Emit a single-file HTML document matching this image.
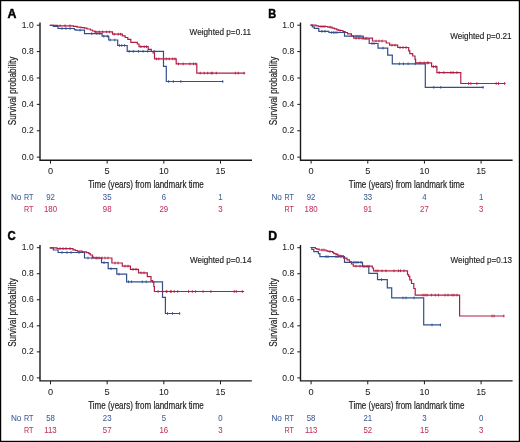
<!DOCTYPE html>
<html><head><meta charset="utf-8"><style>
html,body{margin:0;padding:0;background:#fff;}
svg{display:block;will-change:transform;}
text{font-family:"Liberation Sans",sans-serif;}
</style></head><body>
<svg width="520" height="442" viewBox="0 0 520 442">
<rect x="0" y="0" width="520" height="442" fill="#fff"/>
<g>
<text x="7.5" y="17.6" font-size="12.4" font-weight="bold" fill="#000" stroke="#000" stroke-width="0.45" textLength="8.9" lengthAdjust="spacingAndGlyphs">A</text>
<path d="M40 22.4V160.2H252" fill="none" stroke="#1a1a1a" stroke-width="1.4"/>
<path d="M36.8 157.15H40" stroke="#1a1a1a" stroke-width="1"/>
<text x="33.7" y="159.75" font-size="9.2" fill="#1e1e1e" stroke="#1e1e1e" stroke-width="0.06" text-anchor="end" textLength="11.89" lengthAdjust="spacingAndGlyphs">0.0</text>
<path d="M36.8 130.76H40" stroke="#1a1a1a" stroke-width="1"/>
<text x="33.7" y="133.36" font-size="9.2" fill="#1e1e1e" stroke="#1e1e1e" stroke-width="0.06" text-anchor="end" textLength="11.89" lengthAdjust="spacingAndGlyphs">0.2</text>
<path d="M36.8 104.37H40" stroke="#1a1a1a" stroke-width="1"/>
<text x="33.7" y="106.97" font-size="9.2" fill="#1e1e1e" stroke="#1e1e1e" stroke-width="0.06" text-anchor="end" textLength="11.89" lengthAdjust="spacingAndGlyphs">0.4</text>
<path d="M36.8 77.98H40" stroke="#1a1a1a" stroke-width="1"/>
<text x="33.7" y="80.58" font-size="9.2" fill="#1e1e1e" stroke="#1e1e1e" stroke-width="0.06" text-anchor="end" textLength="11.89" lengthAdjust="spacingAndGlyphs">0.6</text>
<path d="M36.8 51.59H40" stroke="#1a1a1a" stroke-width="1"/>
<text x="33.7" y="54.19" font-size="9.2" fill="#1e1e1e" stroke="#1e1e1e" stroke-width="0.06" text-anchor="end" textLength="11.89" lengthAdjust="spacingAndGlyphs">0.8</text>
<path d="M36.8 25.2H40" stroke="#1a1a1a" stroke-width="1"/>
<text x="33.7" y="27.8" font-size="9.2" fill="#1e1e1e" stroke="#1e1e1e" stroke-width="0.06" text-anchor="end" textLength="11.89" lengthAdjust="spacingAndGlyphs">1.0</text>
<path d="M50.5 160.2V163.6" stroke="#1a1a1a" stroke-width="1"/>
<text x="50.5" y="173.7" font-size="9.2" fill="#1e1e1e" stroke="#1e1e1e" stroke-width="0.06" text-anchor="middle">0</text>
<path d="M107.17 160.2V163.6" stroke="#1a1a1a" stroke-width="1"/>
<text x="107.17" y="173.7" font-size="9.2" fill="#1e1e1e" stroke="#1e1e1e" stroke-width="0.06" text-anchor="middle">5</text>
<path d="M163.83 160.2V163.6" stroke="#1a1a1a" stroke-width="1"/>
<text x="163.83" y="173.7" font-size="9.2" fill="#1e1e1e" stroke="#1e1e1e" stroke-width="0.06" text-anchor="middle" textLength="9.82" lengthAdjust="spacingAndGlyphs">10</text>
<path d="M220.5 160.2V163.6" stroke="#1a1a1a" stroke-width="1"/>
<text x="220.5" y="173.7" font-size="9.2" fill="#1e1e1e" stroke="#1e1e1e" stroke-width="0.06" text-anchor="middle" textLength="9.82" lengthAdjust="spacingAndGlyphs">15</text>
<text x="146" y="187.9" font-size="10.4" text-anchor="middle" fill="#1e1e1e" stroke="#1e1e1e" stroke-width="0.2" textLength="115.6" lengthAdjust="spacingAndGlyphs">Time (years) from landmark time</text>
<text transform="translate(16 90.9) rotate(-90)" x="0" y="0" font-size="10.6" text-anchor="middle" fill="#1e1e1e" stroke="#1e1e1e" stroke-width="0.2" textLength="68.6" lengthAdjust="spacingAndGlyphs">Survival probability</text>
<text x="189.6" y="35" font-size="8.2" fill="#1e1e1e" stroke="#1e1e1e" stroke-width="0.14" textLength="61.4" lengthAdjust="spacingAndGlyphs">Weighted p=0.11</text>
<text x="21.4" y="200.4" font-size="8.9" fill="#3e5c97" stroke="#3e5c97" stroke-width="0.06" text-anchor="end" textLength="10.47" lengthAdjust="spacingAndGlyphs">No</text>
<text x="33.4" y="200.4" font-size="8.9" fill="#3e5c97" stroke="#3e5c97" stroke-width="0.06" text-anchor="end" textLength="9.36" lengthAdjust="spacingAndGlyphs">RT</text>
<text x="33.4" y="211.9" font-size="8.9" fill="#c1325c" stroke="#c1325c" stroke-width="0.06" text-anchor="end" textLength="9.36" lengthAdjust="spacingAndGlyphs">RT</text>
<text x="50.5" y="200.4" font-size="9.3" fill="#3e5c97" stroke="#3e5c97" stroke-width="0.06" text-anchor="middle" textLength="8.69" lengthAdjust="spacingAndGlyphs">92</text>
<text x="50.5" y="211.9" font-size="9.3" fill="#c1325c" stroke="#c1325c" stroke-width="0.06" text-anchor="middle" textLength="13.03" lengthAdjust="spacingAndGlyphs">180</text>
<text x="107.17" y="200.4" font-size="9.3" fill="#3e5c97" stroke="#3e5c97" stroke-width="0.06" text-anchor="middle" textLength="8.69" lengthAdjust="spacingAndGlyphs">35</text>
<text x="107.17" y="211.9" font-size="9.3" fill="#c1325c" stroke="#c1325c" stroke-width="0.06" text-anchor="middle" textLength="8.69" lengthAdjust="spacingAndGlyphs">98</text>
<text x="163.83" y="200.4" font-size="9.3" fill="#3e5c97" stroke="#3e5c97" stroke-width="0.06" text-anchor="middle" textLength="4.34" lengthAdjust="spacingAndGlyphs">6</text>
<text x="163.83" y="211.9" font-size="9.3" fill="#c1325c" stroke="#c1325c" stroke-width="0.06" text-anchor="middle" textLength="8.69" lengthAdjust="spacingAndGlyphs">29</text>
<text x="220.5" y="200.4" font-size="9.3" fill="#3e5c97" stroke="#3e5c97" stroke-width="0.06" text-anchor="middle" textLength="4.34" lengthAdjust="spacingAndGlyphs">1</text>
<text x="220.5" y="211.9" font-size="9.3" fill="#c1325c" stroke="#c1325c" stroke-width="0.06" text-anchor="middle" textLength="4.34" lengthAdjust="spacingAndGlyphs">3</text>
<path d="M50.4 25.3H53.3V26.5H58V28.5H74.4V29.6H75.9V30.1H84.5V33.6H102.1V36.2H108.7V40H117.7V45.5H127.2V51.3H163.5V66.3H166.3V81.5H222.7" fill="none" stroke="#31508c" stroke-width="1.2" stroke-linejoin="miter" stroke-linecap="square"/>
<path d="M62 27.15v2.7M66 27.15v2.7M70 27.15v2.7M80 28.75v2.7M91.7 32.25v2.7M96.9 32.25v2.7M99.8 32.25v2.7M103.8 34.85v2.7M107.3 34.85v2.7M110.2 38.65v2.7M114.8 38.65v2.7M119.4 44.15v2.7M121.7 44.15v2.7M124.6 44.15v2.7M129.2 49.95v2.7M133.3 49.95v2.7M138.5 49.95v2.7M143.1 49.95v2.7M147.7 49.95v2.7M154.2 49.95v2.7M168.7 80.15v2.7M173.3 80.15v2.7M180.8 80.15v2.7M222.7 80.15v2.7" stroke="#31508c" stroke-width="0.9"/>
<path d="M50.4 25.3H57.5V25.8H73.5V26.4H77V27.1H81V27.6H84.5V28.2H87V29H90.3V30H92.5V31H94.6V31.9H112.5V34.2H122.3V35.8H125.2V37.5H127.8V39.3H130.8V42.3H137.3V44H139V46.7H148.2V49.3H151.3V51.5H153.1V52.9H154.5V58.9H176.2V63.9H196.8V73.1H244.6" fill="none" stroke="#b21d45" stroke-width="1.2" stroke-linejoin="miter" stroke-linecap="square"/>
<path d="M60 24.45v2.7M65 24.45v2.7M70 24.45v2.7M95.8 30.55v2.7M99.2 30.55v2.7M102.7 30.55v2.7M106.7 30.55v2.7M109.6 30.55v2.7M114.2 32.85v2.7M118.3 32.85v2.7M120.6 32.85v2.7M140.8 45.35v2.7M144.2 45.35v2.7M146.5 45.35v2.7M156.5 57.55v2.7M158.8 57.55v2.7M163.5 57.55v2.7M166.3 57.55v2.7M169.2 57.55v2.7M172.7 57.55v2.7M175 57.55v2.7M178.5 62.55v2.7M183.1 62.55v2.7M190 62.55v2.7M193.5 62.55v2.7M195.8 62.55v2.7M200.2 71.75v2.7M204.2 71.75v2.7M207.7 71.75v2.7M211.2 71.75v2.7M212.3 71.75v2.7M216.3 71.75v2.7M235.4 71.75v2.7M238.3 71.75v2.7M244 71.75v2.7" stroke="#b21d45" stroke-width="0.9"/>
</g>
<g>
<text x="268.3" y="17.6" font-size="12.4" font-weight="bold" fill="#000" stroke="#000" stroke-width="0.45" textLength="7.9" lengthAdjust="spacingAndGlyphs">B</text>
<path d="M300.5 22.4V160.2H512.6" fill="none" stroke="#1a1a1a" stroke-width="1.4"/>
<path d="M297.3 157.15H300.5" stroke="#1a1a1a" stroke-width="1"/>
<text x="294.2" y="159.75" font-size="9.2" fill="#1e1e1e" stroke="#1e1e1e" stroke-width="0.06" text-anchor="end" textLength="11.89" lengthAdjust="spacingAndGlyphs">0.0</text>
<path d="M297.3 130.76H300.5" stroke="#1a1a1a" stroke-width="1"/>
<text x="294.2" y="133.36" font-size="9.2" fill="#1e1e1e" stroke="#1e1e1e" stroke-width="0.06" text-anchor="end" textLength="11.89" lengthAdjust="spacingAndGlyphs">0.2</text>
<path d="M297.3 104.37H300.5" stroke="#1a1a1a" stroke-width="1"/>
<text x="294.2" y="106.97" font-size="9.2" fill="#1e1e1e" stroke="#1e1e1e" stroke-width="0.06" text-anchor="end" textLength="11.89" lengthAdjust="spacingAndGlyphs">0.4</text>
<path d="M297.3 77.98H300.5" stroke="#1a1a1a" stroke-width="1"/>
<text x="294.2" y="80.58" font-size="9.2" fill="#1e1e1e" stroke="#1e1e1e" stroke-width="0.06" text-anchor="end" textLength="11.89" lengthAdjust="spacingAndGlyphs">0.6</text>
<path d="M297.3 51.59H300.5" stroke="#1a1a1a" stroke-width="1"/>
<text x="294.2" y="54.19" font-size="9.2" fill="#1e1e1e" stroke="#1e1e1e" stroke-width="0.06" text-anchor="end" textLength="11.89" lengthAdjust="spacingAndGlyphs">0.8</text>
<path d="M297.3 25.2H300.5" stroke="#1a1a1a" stroke-width="1"/>
<text x="294.2" y="27.8" font-size="9.2" fill="#1e1e1e" stroke="#1e1e1e" stroke-width="0.06" text-anchor="end" textLength="11.89" lengthAdjust="spacingAndGlyphs">1.0</text>
<path d="M311.1 160.2V163.6" stroke="#1a1a1a" stroke-width="1"/>
<text x="311.1" y="173.7" font-size="9.2" fill="#1e1e1e" stroke="#1e1e1e" stroke-width="0.06" text-anchor="middle">0</text>
<path d="M367.77 160.2V163.6" stroke="#1a1a1a" stroke-width="1"/>
<text x="367.77" y="173.7" font-size="9.2" fill="#1e1e1e" stroke="#1e1e1e" stroke-width="0.06" text-anchor="middle">5</text>
<path d="M424.43 160.2V163.6" stroke="#1a1a1a" stroke-width="1"/>
<text x="424.43" y="173.7" font-size="9.2" fill="#1e1e1e" stroke="#1e1e1e" stroke-width="0.06" text-anchor="middle" textLength="9.82" lengthAdjust="spacingAndGlyphs">10</text>
<path d="M481.1 160.2V163.6" stroke="#1a1a1a" stroke-width="1"/>
<text x="481.1" y="173.7" font-size="9.2" fill="#1e1e1e" stroke="#1e1e1e" stroke-width="0.06" text-anchor="middle" textLength="9.82" lengthAdjust="spacingAndGlyphs">15</text>
<text x="406.6" y="187.9" font-size="10.4" text-anchor="middle" fill="#1e1e1e" stroke="#1e1e1e" stroke-width="0.2" textLength="115.6" lengthAdjust="spacingAndGlyphs">Time (years) from landmark time</text>
<text transform="translate(276.5 90.9) rotate(-90)" x="0" y="0" font-size="10.6" text-anchor="middle" fill="#1e1e1e" stroke="#1e1e1e" stroke-width="0.2" textLength="68.6" lengthAdjust="spacingAndGlyphs">Survival probability</text>
<text x="450.2" y="38.6" font-size="8.2" fill="#1e1e1e" stroke="#1e1e1e" stroke-width="0.14" textLength="61.4" lengthAdjust="spacingAndGlyphs">Weighted p=0.21</text>
<text x="281.9" y="200.4" font-size="8.9" fill="#3e5c97" stroke="#3e5c97" stroke-width="0.06" text-anchor="end" textLength="10.47" lengthAdjust="spacingAndGlyphs">No</text>
<text x="293.9" y="200.4" font-size="8.9" fill="#3e5c97" stroke="#3e5c97" stroke-width="0.06" text-anchor="end" textLength="9.36" lengthAdjust="spacingAndGlyphs">RT</text>
<text x="293.9" y="211.9" font-size="8.9" fill="#c1325c" stroke="#c1325c" stroke-width="0.06" text-anchor="end" textLength="9.36" lengthAdjust="spacingAndGlyphs">RT</text>
<text x="311.1" y="200.4" font-size="9.3" fill="#3e5c97" stroke="#3e5c97" stroke-width="0.06" text-anchor="middle" textLength="8.69" lengthAdjust="spacingAndGlyphs">92</text>
<text x="311.1" y="211.9" font-size="9.3" fill="#c1325c" stroke="#c1325c" stroke-width="0.06" text-anchor="middle" textLength="13.03" lengthAdjust="spacingAndGlyphs">180</text>
<text x="367.77" y="200.4" font-size="9.3" fill="#3e5c97" stroke="#3e5c97" stroke-width="0.06" text-anchor="middle" textLength="8.69" lengthAdjust="spacingAndGlyphs">33</text>
<text x="367.77" y="211.9" font-size="9.3" fill="#c1325c" stroke="#c1325c" stroke-width="0.06" text-anchor="middle" textLength="8.69" lengthAdjust="spacingAndGlyphs">91</text>
<text x="424.43" y="200.4" font-size="9.3" fill="#3e5c97" stroke="#3e5c97" stroke-width="0.06" text-anchor="middle" textLength="4.34" lengthAdjust="spacingAndGlyphs">4</text>
<text x="424.43" y="211.9" font-size="9.3" fill="#c1325c" stroke="#c1325c" stroke-width="0.06" text-anchor="middle" textLength="8.69" lengthAdjust="spacingAndGlyphs">27</text>
<text x="481.1" y="200.4" font-size="9.3" fill="#3e5c97" stroke="#3e5c97" stroke-width="0.06" text-anchor="middle" textLength="4.34" lengthAdjust="spacingAndGlyphs">1</text>
<text x="481.1" y="211.9" font-size="9.3" fill="#c1325c" stroke="#c1325c" stroke-width="0.06" text-anchor="middle" textLength="4.34" lengthAdjust="spacingAndGlyphs">3</text>
<path d="M311.1 25.2H312.3V26.8H314.2V28.3H318.8V31.3H328.9V32.5H344.5V36.2H363.3V39H369.2V43.5H378V48.1H387.7V55.2H392.3V63.8H425.3V87.3H483" fill="none" stroke="#31508c" stroke-width="1.2" stroke-linejoin="miter" stroke-linecap="square"/>
<path d="M322 29.95v2.7M325 29.95v2.7M331.3 31.15v2.7M333.3 31.15v2.7M335 31.15v2.7M337 31.15v2.7M356 34.85v2.7M358 34.85v2.7M360 34.85v2.7M372 42.15v2.7M374 42.15v2.7M383 46.75v2.7M399.4 62.45v2.7M403.5 62.45v2.7M408.1 62.45v2.7M415.2 62.45v2.7M433.8 85.95v2.7M440.8 85.95v2.7M483 85.95v2.7" stroke="#31508c" stroke-width="0.9"/>
<path d="M311.1 25.2H316V25.8H318.8V26.5H327.7V27.1H332V28.1H334.5V28.9H336.9V29.8H338.5V30.5H342.9V31.5H345.2V32.5H347.5V33.8H351.4V35.8H353.7V38.2H372.5V41H386.2V43H389.6V45.2H397.7V47.5H408.7V50.8H409.8V53.7H412.7V56H415V59.4H415.6V62.9H431.6V66.6H436.9V72.6H460.8V83.5H505" fill="none" stroke="#b21d45" stroke-width="1.2" stroke-linejoin="miter" stroke-linecap="square"/>
<path d="M321 25.15v2.7M323 25.15v2.7M325 25.15v2.7M330 25.75v2.7M340 29.15v2.7M356 36.85v2.7M359 36.85v2.7M362 36.85v2.7M366 36.85v2.7M376 39.65v2.7M379 39.65v2.7M382 39.65v2.7M392 43.85v2.7M395 43.85v2.7M400 46.15v2.7M403 46.15v2.7M406 46.15v2.7M420 61.55v2.7M424.2 61.55v2.7M427.1 61.55v2.7M428.3 61.55v2.7M433.5 65.25v2.7M435.8 65.25v2.7M439.2 71.25v2.7M443.8 71.25v2.7M450.8 71.25v2.7M453 71.25v2.7M456.9 71.25v2.7M468.5 82.15v2.7M470.8 82.15v2.7M476.9 82.15v2.7M496.2 82.15v2.7M498.5 82.15v2.7M504.6 82.15v2.7" stroke="#b21d45" stroke-width="0.9"/>
</g>
<g>
<text x="7.5" y="239.6" font-size="12.4" font-weight="bold" fill="#000" stroke="#000" stroke-width="0.45" textLength="8.2" lengthAdjust="spacingAndGlyphs">C</text>
<path d="M40 245V380.9H251.8" fill="none" stroke="#1a1a1a" stroke-width="1.4"/>
<path d="M36.8 377.9H40" stroke="#1a1a1a" stroke-width="1"/>
<text x="33.7" y="380.5" font-size="9.2" fill="#1e1e1e" stroke="#1e1e1e" stroke-width="0.06" text-anchor="end" textLength="11.89" lengthAdjust="spacingAndGlyphs">0.0</text>
<path d="M36.8 351.86H40" stroke="#1a1a1a" stroke-width="1"/>
<text x="33.7" y="354.46" font-size="9.2" fill="#1e1e1e" stroke="#1e1e1e" stroke-width="0.06" text-anchor="end" textLength="11.89" lengthAdjust="spacingAndGlyphs">0.2</text>
<path d="M36.8 325.82H40" stroke="#1a1a1a" stroke-width="1"/>
<text x="33.7" y="328.42" font-size="9.2" fill="#1e1e1e" stroke="#1e1e1e" stroke-width="0.06" text-anchor="end" textLength="11.89" lengthAdjust="spacingAndGlyphs">0.4</text>
<path d="M36.8 299.78H40" stroke="#1a1a1a" stroke-width="1"/>
<text x="33.7" y="302.38" font-size="9.2" fill="#1e1e1e" stroke="#1e1e1e" stroke-width="0.06" text-anchor="end" textLength="11.89" lengthAdjust="spacingAndGlyphs">0.6</text>
<path d="M36.8 273.74H40" stroke="#1a1a1a" stroke-width="1"/>
<text x="33.7" y="276.34" font-size="9.2" fill="#1e1e1e" stroke="#1e1e1e" stroke-width="0.06" text-anchor="end" textLength="11.89" lengthAdjust="spacingAndGlyphs">0.8</text>
<path d="M36.8 247.7H40" stroke="#1a1a1a" stroke-width="1"/>
<text x="33.7" y="250.3" font-size="9.2" fill="#1e1e1e" stroke="#1e1e1e" stroke-width="0.06" text-anchor="end" textLength="11.89" lengthAdjust="spacingAndGlyphs">1.0</text>
<path d="M50.5 380.9V384.3" stroke="#1a1a1a" stroke-width="1"/>
<text x="50.5" y="394.8" font-size="9.2" fill="#1e1e1e" stroke="#1e1e1e" stroke-width="0.06" text-anchor="middle">0</text>
<path d="M107.17 380.9V384.3" stroke="#1a1a1a" stroke-width="1"/>
<text x="107.17" y="394.8" font-size="9.2" fill="#1e1e1e" stroke="#1e1e1e" stroke-width="0.06" text-anchor="middle">5</text>
<path d="M163.83 380.9V384.3" stroke="#1a1a1a" stroke-width="1"/>
<text x="163.83" y="394.8" font-size="9.2" fill="#1e1e1e" stroke="#1e1e1e" stroke-width="0.06" text-anchor="middle" textLength="9.82" lengthAdjust="spacingAndGlyphs">10</text>
<path d="M220.5 380.9V384.3" stroke="#1a1a1a" stroke-width="1"/>
<text x="220.5" y="394.8" font-size="9.2" fill="#1e1e1e" stroke="#1e1e1e" stroke-width="0.06" text-anchor="middle" textLength="9.82" lengthAdjust="spacingAndGlyphs">15</text>
<text x="146" y="408.6" font-size="10.4" text-anchor="middle" fill="#1e1e1e" stroke="#1e1e1e" stroke-width="0.2" textLength="115.6" lengthAdjust="spacingAndGlyphs">Time (years) from landmark time</text>
<text transform="translate(16 312.55) rotate(-90)" x="0" y="0" font-size="10.6" text-anchor="middle" fill="#1e1e1e" stroke="#1e1e1e" stroke-width="0.2" textLength="68.6" lengthAdjust="spacingAndGlyphs">Survival probability</text>
<text x="190" y="263.2" font-size="8.2" fill="#1e1e1e" stroke="#1e1e1e" stroke-width="0.14" textLength="61.4" lengthAdjust="spacingAndGlyphs">Weighted p=0.14</text>
<text x="21.4" y="421.4" font-size="8.9" fill="#3e5c97" stroke="#3e5c97" stroke-width="0.06" text-anchor="end" textLength="10.47" lengthAdjust="spacingAndGlyphs">No</text>
<text x="33.4" y="421.4" font-size="8.9" fill="#3e5c97" stroke="#3e5c97" stroke-width="0.06" text-anchor="end" textLength="9.36" lengthAdjust="spacingAndGlyphs">RT</text>
<text x="33.4" y="432.9" font-size="8.9" fill="#c1325c" stroke="#c1325c" stroke-width="0.06" text-anchor="end" textLength="9.36" lengthAdjust="spacingAndGlyphs">RT</text>
<text x="50.5" y="421.4" font-size="9.3" fill="#3e5c97" stroke="#3e5c97" stroke-width="0.06" text-anchor="middle" textLength="8.69" lengthAdjust="spacingAndGlyphs">58</text>
<text x="50.5" y="432.9" font-size="9.3" fill="#c1325c" stroke="#c1325c" stroke-width="0.06" text-anchor="middle" textLength="12.45" lengthAdjust="spacingAndGlyphs">113</text>
<text x="107.17" y="421.4" font-size="9.3" fill="#3e5c97" stroke="#3e5c97" stroke-width="0.06" text-anchor="middle" textLength="8.69" lengthAdjust="spacingAndGlyphs">23</text>
<text x="107.17" y="432.9" font-size="9.3" fill="#c1325c" stroke="#c1325c" stroke-width="0.06" text-anchor="middle" textLength="8.69" lengthAdjust="spacingAndGlyphs">57</text>
<text x="163.83" y="421.4" font-size="9.3" fill="#3e5c97" stroke="#3e5c97" stroke-width="0.06" text-anchor="middle" textLength="4.34" lengthAdjust="spacingAndGlyphs">5</text>
<text x="163.83" y="432.9" font-size="9.3" fill="#c1325c" stroke="#c1325c" stroke-width="0.06" text-anchor="middle" textLength="8.69" lengthAdjust="spacingAndGlyphs">16</text>
<text x="220.5" y="421.4" font-size="9.3" fill="#3e5c97" stroke="#3e5c97" stroke-width="0.06" text-anchor="middle" textLength="4.34" lengthAdjust="spacingAndGlyphs">0</text>
<text x="220.5" y="432.9" font-size="9.3" fill="#c1325c" stroke="#c1325c" stroke-width="0.06" text-anchor="middle" textLength="4.34" lengthAdjust="spacingAndGlyphs">3</text>
<path d="M50.4 247.8H53.3V250H58.1V252.5H84.5V258H101.5V262.6H108.2V268.7H116.8V274.2H126.6V281.8H162.5V297.3H165.4V313.5H179.6" fill="none" stroke="#31508c" stroke-width="1.2" stroke-linejoin="miter" stroke-linecap="square"/>
<path d="M62 251.15v2.7M67 251.15v2.7M71 251.15v2.7M79 251.15v2.7M88 256.65v2.7M92 256.65v2.7M97 256.65v2.7M104 261.25v2.7M111 267.35v2.7M119 272.85v2.7M128.5 280.45v2.7M131.5 280.45v2.7M142.3 280.45v2.7M146.2 280.45v2.7M167.5 312.15v2.7M172.5 312.15v2.7M179.6 312.15v2.7" stroke="#31508c" stroke-width="0.9"/>
<path d="M50.4 247.8H57.1V248.6H73V249.8H75.4V250.5H77.3V251.2H82.1V251.9H86.5V252.7H88.9V253.6H90.3V255H92.5V257.2H93.7V258H111.9V263H122.3V266.1H130.4V269.3H138.5V272.8H147.3V276.7H151V280.7H152.7V282.1H153.8V286.5H154.4V291.5H243.5" fill="none" stroke="#b21d45" stroke-width="1.2" stroke-linejoin="miter" stroke-linecap="square"/>
<path d="M60 247.25v2.7M63 247.25v2.7M66 247.25v2.7M70 247.25v2.7M96 256.65v2.7M99 256.65v2.7M102 256.65v2.7M105 256.65v2.7M108 256.65v2.7M115 261.65v2.7M118 261.65v2.7M125 264.75v2.7M128 264.75v2.7M133 267.95v2.7M136 267.95v2.7M141 271.45v2.7M144 271.45v2.7M158.1 290.15v2.7M162.7 290.15v2.7M166.2 290.15v2.7M166.9 290.15v2.7M170.4 290.15v2.7M171.2 290.15v2.7M174.2 290.15v2.7M177.7 290.15v2.7M188.5 290.15v2.7M192.3 290.15v2.7M195.6 290.15v2.7M203.1 290.15v2.7M210.9 290.15v2.7M234.2 290.15v2.7M236.3 290.15v2.7M242.3 290.15v2.7" stroke="#b21d45" stroke-width="0.9"/>
</g>
<g>
<text x="268.3" y="239.6" font-size="12.4" font-weight="bold" fill="#000" stroke="#000" stroke-width="0.45" textLength="8.9" lengthAdjust="spacingAndGlyphs">D</text>
<path d="M300.5 245V380.9H512.6" fill="none" stroke="#1a1a1a" stroke-width="1.4"/>
<path d="M297.3 377.9H300.5" stroke="#1a1a1a" stroke-width="1"/>
<text x="294.2" y="380.5" font-size="9.2" fill="#1e1e1e" stroke="#1e1e1e" stroke-width="0.06" text-anchor="end" textLength="11.89" lengthAdjust="spacingAndGlyphs">0.0</text>
<path d="M297.3 351.86H300.5" stroke="#1a1a1a" stroke-width="1"/>
<text x="294.2" y="354.46" font-size="9.2" fill="#1e1e1e" stroke="#1e1e1e" stroke-width="0.06" text-anchor="end" textLength="11.89" lengthAdjust="spacingAndGlyphs">0.2</text>
<path d="M297.3 325.82H300.5" stroke="#1a1a1a" stroke-width="1"/>
<text x="294.2" y="328.42" font-size="9.2" fill="#1e1e1e" stroke="#1e1e1e" stroke-width="0.06" text-anchor="end" textLength="11.89" lengthAdjust="spacingAndGlyphs">0.4</text>
<path d="M297.3 299.78H300.5" stroke="#1a1a1a" stroke-width="1"/>
<text x="294.2" y="302.38" font-size="9.2" fill="#1e1e1e" stroke="#1e1e1e" stroke-width="0.06" text-anchor="end" textLength="11.89" lengthAdjust="spacingAndGlyphs">0.6</text>
<path d="M297.3 273.74H300.5" stroke="#1a1a1a" stroke-width="1"/>
<text x="294.2" y="276.34" font-size="9.2" fill="#1e1e1e" stroke="#1e1e1e" stroke-width="0.06" text-anchor="end" textLength="11.89" lengthAdjust="spacingAndGlyphs">0.8</text>
<path d="M297.3 247.7H300.5" stroke="#1a1a1a" stroke-width="1"/>
<text x="294.2" y="250.3" font-size="9.2" fill="#1e1e1e" stroke="#1e1e1e" stroke-width="0.06" text-anchor="end" textLength="11.89" lengthAdjust="spacingAndGlyphs">1.0</text>
<path d="M311.1 380.9V384.3" stroke="#1a1a1a" stroke-width="1"/>
<text x="311.1" y="394.8" font-size="9.2" fill="#1e1e1e" stroke="#1e1e1e" stroke-width="0.06" text-anchor="middle">0</text>
<path d="M367.77 380.9V384.3" stroke="#1a1a1a" stroke-width="1"/>
<text x="367.77" y="394.8" font-size="9.2" fill="#1e1e1e" stroke="#1e1e1e" stroke-width="0.06" text-anchor="middle">5</text>
<path d="M424.43 380.9V384.3" stroke="#1a1a1a" stroke-width="1"/>
<text x="424.43" y="394.8" font-size="9.2" fill="#1e1e1e" stroke="#1e1e1e" stroke-width="0.06" text-anchor="middle" textLength="9.82" lengthAdjust="spacingAndGlyphs">10</text>
<path d="M481.1 380.9V384.3" stroke="#1a1a1a" stroke-width="1"/>
<text x="481.1" y="394.8" font-size="9.2" fill="#1e1e1e" stroke="#1e1e1e" stroke-width="0.06" text-anchor="middle" textLength="9.82" lengthAdjust="spacingAndGlyphs">15</text>
<text x="406.6" y="408.6" font-size="10.4" text-anchor="middle" fill="#1e1e1e" stroke="#1e1e1e" stroke-width="0.2" textLength="115.6" lengthAdjust="spacingAndGlyphs">Time (years) from landmark time</text>
<text transform="translate(276.5 312.55) rotate(-90)" x="0" y="0" font-size="10.6" text-anchor="middle" fill="#1e1e1e" stroke="#1e1e1e" stroke-width="0.2" textLength="68.6" lengthAdjust="spacingAndGlyphs">Survival probability</text>
<text x="450.6" y="263.2" font-size="8.2" fill="#1e1e1e" stroke="#1e1e1e" stroke-width="0.14" textLength="61.4" lengthAdjust="spacingAndGlyphs">Weighted p=0.13</text>
<text x="281.9" y="421.4" font-size="8.9" fill="#3e5c97" stroke="#3e5c97" stroke-width="0.06" text-anchor="end" textLength="10.47" lengthAdjust="spacingAndGlyphs">No</text>
<text x="293.9" y="421.4" font-size="8.9" fill="#3e5c97" stroke="#3e5c97" stroke-width="0.06" text-anchor="end" textLength="9.36" lengthAdjust="spacingAndGlyphs">RT</text>
<text x="293.9" y="432.9" font-size="8.9" fill="#c1325c" stroke="#c1325c" stroke-width="0.06" text-anchor="end" textLength="9.36" lengthAdjust="spacingAndGlyphs">RT</text>
<text x="311.1" y="421.4" font-size="9.3" fill="#3e5c97" stroke="#3e5c97" stroke-width="0.06" text-anchor="middle" textLength="8.69" lengthAdjust="spacingAndGlyphs">58</text>
<text x="311.1" y="432.9" font-size="9.3" fill="#c1325c" stroke="#c1325c" stroke-width="0.06" text-anchor="middle" textLength="12.45" lengthAdjust="spacingAndGlyphs">113</text>
<text x="367.77" y="421.4" font-size="9.3" fill="#3e5c97" stroke="#3e5c97" stroke-width="0.06" text-anchor="middle" textLength="8.69" lengthAdjust="spacingAndGlyphs">21</text>
<text x="367.77" y="432.9" font-size="9.3" fill="#c1325c" stroke="#c1325c" stroke-width="0.06" text-anchor="middle" textLength="8.69" lengthAdjust="spacingAndGlyphs">52</text>
<text x="424.43" y="421.4" font-size="9.3" fill="#3e5c97" stroke="#3e5c97" stroke-width="0.06" text-anchor="middle" textLength="4.34" lengthAdjust="spacingAndGlyphs">3</text>
<text x="424.43" y="432.9" font-size="9.3" fill="#c1325c" stroke="#c1325c" stroke-width="0.06" text-anchor="middle" textLength="8.69" lengthAdjust="spacingAndGlyphs">15</text>
<text x="481.1" y="421.4" font-size="9.3" fill="#3e5c97" stroke="#3e5c97" stroke-width="0.06" text-anchor="middle" textLength="4.34" lengthAdjust="spacingAndGlyphs">0</text>
<text x="481.1" y="432.9" font-size="9.3" fill="#c1325c" stroke="#c1325c" stroke-width="0.06" text-anchor="middle" textLength="4.34" lengthAdjust="spacingAndGlyphs">3</text>
<path d="M311.2 247.5H311.8V249.4H313.8V251.7H318.4V253.6H319.9V256.7H344.5V262.3H362.5V266.7H368.8V273.4H377.5V279.6H387.3V287.9H391.7V297.9H423.7V324.9H440.4" fill="none" stroke="#31508c" stroke-width="1.2" stroke-linejoin="miter" stroke-linecap="square"/>
<path d="M326 255.35v2.7M328 255.35v2.7M336 255.35v2.7M338 255.35v2.7M341 255.35v2.7M354 260.95v2.7M356 260.95v2.7M358 260.95v2.7M361 260.95v2.7M381.5 278.25v2.7M403 296.55v2.7M406 296.55v2.7M414 296.55v2.7M432 323.55v2.7M440.4 323.55v2.7" stroke="#31508c" stroke-width="0.9"/>
<path d="M311.2 247.5H315.3V248.5H316.8V249.2H319.2V250H326.1V250.8H328V251.5H332.6V252.3H333.8V253.6H336.1V254.4H338V255.9H343.5V258.2H347V259.8H349.5V261.8H351.5V264H353.3V266.2H372.3V268H373.5V270.8H407.5V274.7H408.7V276.4H409.8V279.9H411.5V283.5H413.8V288.5H415.2V295.1H459.6V316H503.8" fill="none" stroke="#b21d45" stroke-width="1.2" stroke-linejoin="miter" stroke-linecap="square"/>
<path d="M322 248.65v2.7M324 248.65v2.7M330 250.15v2.7M340 254.55v2.7M356 264.85v2.7M360 264.85v2.7M364 264.85v2.7M367 264.85v2.7M369 264.85v2.7M376 269.45v2.7M378 269.45v2.7M382 269.45v2.7M386 269.45v2.7M394 269.45v2.7M398.5 269.45v2.7M400.5 269.45v2.7M404 269.45v2.7M423 293.75v2.7M425 293.75v2.7M427 293.75v2.7M431.6 293.75v2.7M435.3 293.75v2.7M438.5 293.75v2.7M445 293.75v2.7M448 293.75v2.7M452 293.75v2.7M454 293.75v2.7M457 293.75v2.7M492 314.65v2.7M494 314.65v2.7M503.8 314.65v2.7" stroke="#b21d45" stroke-width="0.9"/>
</g>
<rect x="0.55" y="0.55" width="518.9" height="440.9" fill="none" stroke="#000" stroke-width="1.3"/>
</svg>
</body></html>
